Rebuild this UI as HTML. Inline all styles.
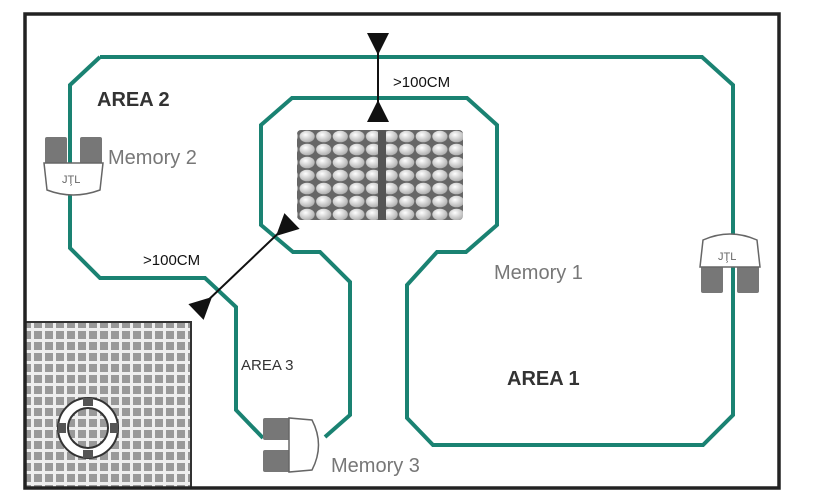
<!DOCTYPE html>
<html><head><meta charset="utf-8"><style>
html,body{margin:0;padding:0;background:#fff;}
svg{display:block;}
text{font-family:"Liberation Sans",sans-serif;}
</style></head><body>
<svg width="834" height="493" viewBox="0 0 834 493" xmlns="http://www.w3.org/2000/svg">
<defs>
<pattern id="grid" width="11" height="11" patternUnits="userSpaceOnUse">
<rect width="11" height="11" fill="#eee"/>
<rect x="1" y="1" width="8" height="8" fill="#999"/>
</pattern>
<radialGradient id="cell" cx="40%" cy="35%" r="70%"><stop offset="0" stop-color="#fff"/><stop offset="1" stop-color="#aaa"/></radialGradient>
<pattern id="hedge" width="16.6" height="13" patternUnits="userSpaceOnUse">
<rect width="16.6" height="13" fill="#666"/>
<ellipse cx="8.3" cy="6.5" rx="7.6" ry="5.8" fill="url(#cell)"/>
</pattern>
</defs>
<rect x="0" y="0" width="834" height="493" fill="#fff"/>
<rect x="25" y="322" width="166" height="166" fill="url(#grid)" stroke="#333" stroke-width="2"/>
<circle cx="88" cy="428" r="25" fill="none" stroke="#333" stroke-width="12"/>
<circle cx="88" cy="428" r="25" fill="none" stroke="#fff" stroke-width="8"/>
<g fill="#555">
<rect x="83" y="398" width="10" height="8"/><rect x="83" y="450" width="10" height="8"/>
<rect x="58" y="423" width="8" height="10"/><rect x="110" y="423" width="8" height="10"/>
</g>
<rect x="25" y="14" width="754" height="474" fill="none" stroke="#222" stroke-width="3.5"/>
<rect x="297" y="130" width="166" height="90" fill="url(#hedge)" rx="4"/>
<rect x="378" y="130" width="8" height="90" fill="#555"/>
<path d="M100,57 L702,57 L733,85 L733,415 L703,445 L433,445 L407,418 L407,285 L437,252 L466,252 L497,225 L497,125 L467,98 L292,98 L261,125 L261,225 L293,252 L320,252 L350,282 L350,415 L325,437 M263,438 L236,410 L236,307 L205,278 L100,278 L70,248 L70,85 L100,57" fill="none" stroke="#1a8272" stroke-width="4" stroke-linejoin="miter"/>
<line x1="378" y1="36" x2="378" y2="120" stroke="#111" stroke-width="2"/>
<polygon points="367,33 389,33 378,55" fill="#111"/>
<polygon points="367,122 389,122 378,100" fill="#111"/>
<line x1="203" y1="305" x2="288" y2="224" stroke="#111" stroke-width="2"/>
<polygon points="203.6,319.9 188.4,304.1 212,297" fill="#111"/>
<polygon points="299.6,228.9 284.4,213.1 276,236" fill="#111"/>
<g>
<rect x="45" y="137" width="22" height="28" fill="#777" rx="2"/>
<rect x="80" y="137" width="22" height="28" fill="#777" rx="2"/>
<path d="M44,163 L103,163 L100,190 Q73,200 47,190 Z" fill="#fff" stroke="#666" stroke-width="1.5"/>
<text x="62" y="183" font-size="11" fill="#666">JŢL</text>
</g>
<g>
<rect x="701" y="265" width="22" height="28" fill="#777" rx="2"/>
<rect x="737" y="265" width="22" height="28" fill="#777" rx="2"/>
<path d="M700,267 L760,267 L757,240 Q730,228 703,240 Z" fill="#fff" stroke="#666" stroke-width="1.5"/>
<text x="718" y="260" font-size="11" fill="#666">JŢL</text>
</g>
<g>
<rect x="263" y="418" width="28" height="22" fill="#777" rx="2"/>
<rect x="263" y="450" width="28" height="22" fill="#777" rx="2"/>
<path d="M289,418 L289,472 L312,470 Q325,445 312,420 Z" fill="#fff" stroke="#666" stroke-width="1.5"/>
</g>
<text x="97" y="106" font-size="20" font-weight="bold" fill="#333">AREA 2</text>
<text x="507" y="385" font-size="20" font-weight="bold" fill="#333">AREA 1</text>
<text x="241" y="370" font-size="15" fill="#333">AREA 3</text>
<text x="108" y="164" font-size="20" fill="#777">Memory 2</text>
<text x="494" y="279" font-size="20" fill="#777">Memory 1</text>
<text x="331" y="472" font-size="20" fill="#777">Memory 3</text>
<text x="393" y="87" font-size="15" fill="#111">&gt;100CM</text>
<text x="143" y="265" font-size="15" fill="#111">&gt;100CM</text>
</svg>
</body></html>
